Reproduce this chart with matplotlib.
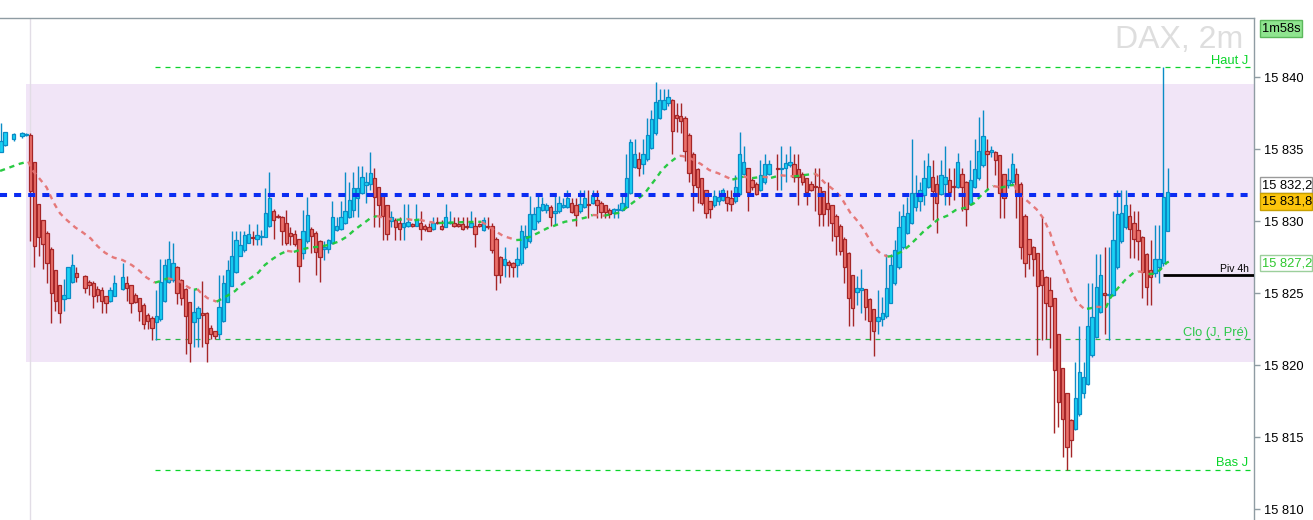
import numpy as np
import matplotlib
matplotlib.use("Agg")
import matplotlib.pyplot as plt
from matplotlib.patches import Rectangle

plt.rcParams['font.family'] = ['Liberation Sans', 'DejaVu Sans']

# 2 minute DAX candles, one slot per bar (None = no bar in that slot)
opens = [
    15834.8, 15835.3, None, 15835.7, None, 15835.9, 15836.0, 15836.0, 15834.1, 15831.2,
    15830.1, 15829.2, 15828.1, 15826.6, 15825.6, 15824.6, 15824.7, 15825.8, 15826.4, None,
    15826.2, 15825.8, 15825.7, 15825.3, 15825.2, 15824.8, 15824.5, 15824.8, None, 15825.3,
    15825.7, 15825.6, 15824.9, 15824.7, 15824.2, 15823.5, 15823.3, 15823.0, 15823.2, 15824.5,
    15825.8, 15825.9, 15826.8, 15825.9, 15825.3, 15824.4, 15823.0, 15823.3, 15823.6, 15823.6,
    15822.6, 15822.4, 15822.2, 15823.1, 15824.4, 15825.5, 15826.5, 15827.6, 15828.0, 15828.5,
    15828.9, 15828.8, 15828.9, 15828.9, 15829.7, 15830.7, 15830.4, 15830.3, 15829.9, 15829.2,
    15829.1, 15828.8, 15827.8, 15828.6, 15829.5, 15829.2, 15828.6, 15828.05, 15828.1, 15828.5,
    15829.4, 15829.5, 15829.9, 15830.3, 15830.8, 15831.6, 15832.0, 15832.5, 15832.6, 15833.0,
    15832.4, 15831.8, 15831.1, 15830.05, 15830.1, 15829.9, 15829.6, 15829.7, 15829.8, 15829.7,
    15829.9, 15829.7, 15829.6, 15829.5, 15829.95, 15829.7, 15829.6, 15829.9, 15829.9, 15829.8,
    15829.8, 15829.7, 15829.6, 15829.7, 15829.8, 15829.4, 15829.7, 15829.7, 15828.8, 15827.5,
    15827.0, 15827.2, 15827.1, 15827.0, 15827.1, 15828.2, 15828.6, 15829.5, 15830.0, 15830.8,
    15830.8, 15831.0, 15830.6, 15830.7, 15831.0, 15831.0, 15831.3, 15831.1, 15830.7, 15831.0,
    15831.2, 15831.25, 15831.5, 15831.3, 15831.1, 15830.8, 15830.6, 15830.8, 15830.8, 15831.0,
    15832.0, 15833.8, 15834.3, 15834.0, 15834.3, 15835.1, 15836.1, 15837.2, 15837.8, 15838.2,
    15838.4, 15837.4, 15837.3, 15837.2, 15836.0, 15834.7, 15833.6, 15833.0, 15832.2, 15831.4,
    15831.1, 15831.4, 15831.5, 15831.7, 15831.6, 15831.4, 15831.9, 15833.3, 15833.7, 15832.9,
    15832.6, 15832.2, 15832.7, 15833.3, None, 15833.7, 15833.65, 15833.7, 15833.9, 15834.0,
    15833.6, 15833.3, 15833.0, 15832.6, 15832.4, 15832.4, 15832.1, 15831.25, 15831.1, 15830.4,
    15829.7, 15828.8, 15827.8, 15826.3, 15825.1, 15825.2, 15825.3, 15824.6, 15823.9, 15823.1,
    15823.2, 15823.4, 15824.3, 15825.7, 15826.8, 15828.2, 15829.2, 15829.9, 15831.0, 15831.4,
    15831.8, 15832.4, 15833.1, 15832.6, 15831.9, 15832.6, 15832.9, 15832.45, 15832.4, 15833.3,
    15832.75, 15831.2, 15832.4, 15833.0, 15833.9, 15834.9, 15834.8, 15834.8, 15834.6, 15833.3,
    15832.5, 15832.7, 15833.3, 15832.6, 15830.4, 15828.75, 15828.2, 15827.8, 15826.6, 15826.1,
    15825.2, 15824.65, 15822.2, 15819.8, 15818.05, 15816.2, 15815.55, 15816.6, 15818.1, 15818.7,
    15820.7, 15822.0, 15823.7, 15825.0, 15824.9, 15824.9, 15826.8, 15828.6, 15829.6, 15830.4,
    15829.9, 15829.4, 15828.9, 15827.7, 15826.6, 15826.4, 15826.85, 15827.1, 15829.35,
]
highs = [
    15836.8, 15836.2, None, 15836.1, None, 15836.2, 15836.1, 15836.1, 15834.1, 15831.2,
    15830.1, 15829.3, 15828.2, 15826.6, 15825.6, 15826.0, 15826.85, 15827.7, 15826.85, None,
    15826.3, 15825.9, 15825.85, 15825.5, 15825.45, 15824.8, 15825.45, 15826.3, None, 15827.1,
    15826.2, 15825.6, 15825.0, 15824.7, 15824.3, 15823.6, 15823.4, 15825.2, 15827.4, 15827.4,
    15828.6, 15828.5, 15826.9, 15826.0, 15825.4, 15824.4, 15825.3, 15824.1, 15825.85, 15823.7,
    15822.8, 15822.4, 15826.3, 15826.3, 15827.3, 15829.3, 15829.3, 15829.3, 15829.3, 15829.8,
    15829.3, 15829.8, 15829.4, 15832.3, 15833.4, 15830.85, 15830.5, 15830.4, 15830.8, 15829.6,
    15829.4, 15828.8, 15830.8, 15831.7, 15829.6, 15829.3, 15828.7, 15828.6, 15828.8, 15831.4,
    15830.3, 15831.4, 15833.4, 15832.75, 15833.4, 15833.85, 15833.85, 15833.4, 15834.8, 15833.7,
    15832.4, 15831.8, 15831.1, 15830.75, 15830.2, 15830.3, 15831.2, 15831.2, 15829.9, 15831.2,
    15830.75, 15829.8, 15829.85, 15830.3, 15830.3, 15830.1, 15831.2, 15830.75, 15830.3, 15830.3,
    15830.3, 15830.3, 15830.75, 15830.3, 15829.9, 15830.3, 15830.3, 15829.9, 15828.9, 15827.6,
    15828.25, 15827.3, 15827.2, 15828.25, 15829.75, 15829.75, 15831.75, 15831.0, 15831.75, 15831.7,
    15831.3, 15831.1, 15831.75, 15831.75, 15831.6, 15832.2, 15831.6, 15831.6, 15832.2, 15832.2,
    15832.2, 15832.2, 15832.2, 15831.4, 15831.1, 15830.9, 15830.9, 15831.2, 15831.75, 15834.7,
    15835.7, 15835.7, 15834.8, 15835.7, 15837.2, 15837.7, 15839.7, 15839.2, 15839.2, 15839.2,
    15838.5, 15838.2, 15838.25, 15837.3, 15836.1, 15834.8, 15833.7, 15833.0, 15832.2, 15831.4,
    15832.2, 15832.2, 15832.3, 15832.2, 15832.2, 15833.2, 15836.2, 15835.2, 15833.7, 15833.0,
    15832.7, 15834.25, 15834.7, 15834.25, None, 15834.7, 15835.2, 15834.7, 15835.2, 15834.7,
    15834.7, 15833.4, 15833.0, 15832.8, 15833.7, 15833.7, 15832.1, 15832.75, 15831.1, 15830.5,
    15829.8, 15828.9, 15827.9, 15826.3, 15826.2, 15826.7, 15825.3, 15824.7, 15823.9, 15825.2,
    15824.75, 15827.7, 15827.7, 15828.7, 15830.7, 15831.2, 15831.7, 15835.7, 15833.2, 15832.75,
    15834.25, 15834.75, 15834.25, 15833.2, 15834.25, 15835.2, 15833.7, 15833.7, 15834.75, 15833.7,
    15832.8, 15834.25, 15835.7, 15837.25, 15837.7, 15835.7, 15835.2, 15834.9, 15834.6, 15833.3,
    15833.7, 15834.75, 15833.7, 15832.7, 15830.5, 15828.8, 15828.3, 15827.8, 15830.3, 15826.2,
    15826.15, 15824.7, 15822.2, 15819.8, 15818.1, 15816.3, 15820.25, 15822.7, 15820.25, 15825.7,
    15825.7, 15827.7, 15827.7, 15828.25, 15828.25, 15830.7, 15832.2, 15832.2, 15832.2, 15831.2,
    15830.7, 15830.7, 15829.0, 15827.8, 15828.7, 15829.75, 15829.75, 15840.75, 15833.7,
]
lows = [
    15834.8, 15835.2, None, 15835.6, None, 15835.8, 15835.9, 15828.6, 15826.8, 15827.6,
    15826.7, 15825.7, 15822.95, 15823.8, 15822.95, 15823.8, 15824.7, 15825.7, 15825.8, None,
    15825.0, 15824.9, 15824.0, 15824.4, 15823.6, 15823.6, 15824.4, 15824.8, None, 15825.2,
    15824.45, 15823.6, 15824.3, 15823.1, 15822.55, 15822.55, 15821.75, 15821.75, 15823.1, 15824.4,
    15825.7, 15825.8, 15824.25, 15824.2, 15820.8, 15820.25, 15821.3, 15821.3, 15821.3, 15820.25,
    15821.8, 15821.8, 15821.8, 15823.0, 15824.4, 15825.5, 15826.4, 15827.6, 15827.9, 15828.5,
    15828.35, 15828.35, 15828.35, 15828.9, 15829.6, 15828.8, 15830.2, 15828.35, 15828.35, 15828.35,
    15828.3, 15825.8, 15827.4, 15828.5, 15827.8, 15826.3, 15825.8, 15827.3, 15827.8, 15828.4,
    15829.3, 15829.4, 15829.8, 15830.2, 15830.3, 15830.3, 15831.9, 15831.3, 15832.2, 15829.6,
    15829.6, 15828.7, 15828.7, 15829.6, 15828.7, 15828.7, 15828.7, 15829.6, 15829.6, 15829.7,
    15828.7, 15829.3, 15829.3, 15829.4, 15829.8, 15829.4, 15829.6, 15829.8, 15829.6, 15829.6,
    15829.4, 15829.5, 15829.6, 15828.2, 15829.6, 15829.3, 15829.5, 15827.8, 15825.2, 15825.7,
    15826.15, 15826.15, 15826.15, 15826.15, 15827.0, 15828.1, 15828.5, 15829.4, 15829.9, 15830.7,
    15830.6, 15829.7, 15829.75, 15830.6, 15830.9, 15830.9, 15830.6, 15829.7, 15830.6, 15830.9,
    15830.2, 15831.2, 15830.2, 15830.2, 15830.2, 15830.2, 15830.2, 15830.2, 15830.7, 15830.9,
    15831.9, 15833.7, 15833.15, 15833.3, 15834.2, 15835.0, 15836.0, 15837.1, 15837.7, 15838.0,
    15834.7, 15836.2, 15836.15, 15834.2, 15832.7, 15830.7, 15831.25, 15831.1, 15830.2, 15830.2,
    15831.0, 15831.1, 15831.4, 15830.7, 15830.7, 15831.3, 15831.8, 15833.2, 15830.7, 15832.2,
    15831.8, 15832.1, 15832.6, 15833.2, None, 15832.2, 15832.2, 15832.7, 15833.8, 15832.7,
    15831.1, 15832.5, 15831.1, 15832.1, 15830.7, 15829.7, 15829.7, 15829.7, 15828.65, 15827.65,
    15827.65, 15825.7, 15822.7, 15822.7, 15824.2, 15823.6, 15823.15, 15821.75, 15820.65, 15822.2,
    15822.7, 15823.3, 15824.3, 15825.6, 15826.7, 15828.1, 15829.1, 15829.8, 15830.7, 15830.7,
    15831.1, 15832.3, 15830.1, 15829.2, 15831.8, 15831.1, 15831.1, 15831.5, 15832.3, 15830.7,
    15829.7, 15831.1, 15832.3, 15832.9, 15833.8, 15832.2, 15834.5, 15833.2, 15830.2, 15830.2,
    15832.3, 15832.5, 15830.2, 15827.4, 15826.15, 15826.7, 15826.2, 15820.7, 15821.75, 15821.85,
    15821.2, 15815.3, 15815.75, 15813.65, 15812.75, 15813.65, 15815.5, 15816.5, 15817.7, 15818.6,
    15820.6, 15821.9, 15823.6, 15822.2, 15821.75, 15824.8, 15826.7, 15828.5, 15829.5, 15827.45,
    15827.45, 15827.3, 15824.7, 15824.2, 15824.2, 15826.15, 15825.7, 15826.9, 15829.3,
]
closes = [
    15835.6, 15836.2, None, 15836.05, None, 15836.1, 15836.05, 15832.1, 15828.3, 15828.9,
    15828.45, 15827.1, 15825.0, 15824.5, 15823.6, 15824.9, 15826.8, 15826.95, 15826.1, None,
    15825.35, 15825.6, 15824.8, 15824.9, 15824.5, 15824.3, 15825.2, 15825.75, None, 15826.1,
    15825.4, 15824.3, 15824.4, 15823.8, 15822.9, 15823.05, 15822.6, 15823.45, 15825.8, 15826.95,
    15827.35, 15827.1, 15825.05, 15824.7, 15823.45, 15821.55, 15823.7, 15823.95, 15823.5, 15821.55,
    15822.15, 15822.05, 15824.05, 15825.7, 15826.65, 15827.6, 15828.7, 15828.35, 15829.05, 15829.15,
    15828.85, 15829.05, 15828.9, 15830.55, 15831.65, 15830.1, 15830.3, 15829.3, 15828.5, 15829.0,
    15828.4, 15826.9, 15829.3, 15830.45, 15828.95, 15827.9, 15827.55, 15828.25, 15828.7, 15830.3,
    15829.65, 15830.3, 15830.7, 15831.5, 15832.3, 15832.3, 15833.05, 15832.7, 15833.35, 15831.7,
    15831.1, 15830.35, 15829.1, 15830.3, 15829.6, 15829.45, 15829.85, 15829.95, 15829.7, 15830.1,
    15829.45, 15829.45, 15829.3, 15829.9, 15829.85, 15829.45, 15830.3, 15829.95, 15829.65, 15829.7,
    15829.45, 15829.6, 15829.85, 15829.1, 15829.7, 15830.1, 15829.6, 15828.0, 15826.3, 15826.3,
    15827.35, 15826.95, 15826.8, 15827.35, 15829.3, 15829.0, 15830.5, 15830.5, 15831.0, 15831.2,
    15831.1, 15830.3, 15830.7, 15831.3, 15831.15, 15831.6, 15830.65, 15830.45, 15831.2, 15831.6,
    15831.15, 15831.8, 15831.1, 15830.65, 15830.65, 15830.5, 15830.85, 15830.85, 15831.3, 15833.0,
    15835.5, 15834.7, 15833.7, 15834.7, 15836.0, 15837.1, 15838.3, 15838.45, 15838.4, 15838.65,
    15836.3, 15837.2, 15837.0, 15834.9, 15833.35, 15832.5, 15832.35, 15831.3, 15830.55, 15830.85,
    15831.75, 15831.7, 15832.2, 15831.3, 15831.2, 15832.35, 15834.7, 15834.1, 15832.05, 15832.4,
    15831.9, 15833.2, 15834.0, 15834.0, None, 15833.65, 15833.7, 15834.05, 15834.15, 15833.05,
    15833.05, 15832.7, 15832.05, 15832.2, 15832.35, 15830.5, 15830.5, 15830.85, 15829.85, 15828.95,
    15827.95, 15826.8, 15824.7, 15823.95, 15825.35, 15825.35, 15824.05, 15823.05, 15822.35, 15823.35,
    15823.6, 15825.35, 15826.95, 15828.0, 15829.6, 15830.35, 15830.55, 15831.95, 15831.95, 15832.2,
    15833.0, 15833.85, 15832.1, 15831.3, 15833.2, 15833.05, 15832.05, 15832.4, 15834.1, 15832.35,
    15830.85, 15832.85, 15833.6, 15834.85, 15835.95, 15834.7, 15834.95, 15834.25, 15831.95, 15831.6,
    15832.85, 15833.95, 15831.9, 15828.2, 15827.1, 15827.75, 15827.35, 15825.5, 15825.6, 15824.3,
    15824.1, 15819.7, 15817.45, 15816.3, 15814.3, 15814.85, 15817.7, 15819.55, 15819.2, 15822.75,
    15823.35, 15825.45, 15826.3, 15824.85, 15824.95, 15828.7, 15830.5, 15830.55, 15831.15, 15829.45,
    15828.8, 15828.6, 15826.45, 15825.45, 15826.15, 15827.35, 15827.35, 15831.7, 15832.05,
]

# moving average (slot position, price)
ma_x = [-0.2, 4.5, 6.5, 7.5, 9.3, 10.9, 11.9, 12.9, 14.1, 15.7, 17.7, 19.6, 21.4, 23.0, 24.8,
        26.8, 29.0, 31.2, 33.0, 34.7, 36.7, 38.0, 39.8, 42.7, 44.7, 46.0, 46.8, 47.4, 49.2, 51.4,
        53.8, 55.8, 57.4, 59.4, 61.3, 62.9, 64.8, 66.7, 68.2, 69.8, 71.7, 73.8, 76.0, 78.4, 80.6,
        82.4, 84.4, 86.4, 88.0, 89.6, 92.5, 94.3, 96.8, 97.6, 98.5, 99.8, 101.0, 103.3, 104.3, 107.8,
        111.0, 114.5, 115.8, 117.7, 119.7, 121.7, 122.8, 123.9, 126.1, 128.1, 130.1, 132.3, 134.4,
        136.8, 139.2, 141.0, 142.5, 143.8, 145.6, 147.5, 149.5, 151.4, 153.3, 154.7, 156.1, 157.5,
        159.3, 161.0, 161.8, 162.5, 164.6, 166.8, 168.8, 171.0, 173.1, 174.3, 177.0, 179.0, 181.5,
        183.5, 185.8, 187.6, 189.0, 193.8, 194.4, 196.3, 198.3, 200.0, 201.3, 202.4, 204.1, 205.4,
        206.6, 207.8, 209.6, 211.3, 212.5, 214.6, 216.4, 218.2, 219.8, 221.5, 223.3, 225.5, 227.5,
        229.7, 231.8, 233.4, 235.2, 236.5, 237.5, 238.2, 240.4, 241.5, 242.4, 244.8, 246.8, 248.4,
        250.0, 251.2, 252.4, 253.8, 255.2, 256.5, 258.0, 258.8, 259.6, 261.0, 262.0, 263.3, 264.3,
        265.9, 267.9, 269.9, 271.0, 271.6, 273.5, 274.6, 276.2, 277.8, 278.3]
ma_y = [15833.5, 15834.0, 15834.15, 15833.56, 15832.93, 15832.35, 15831.71, 15831.13, 15830.55,
        15830.09, 15829.58, 15829.21, 15828.81, 15828.28, 15827.82, 15827.49, 15827.31, 15826.96,
        15826.57, 15826.1, 15825.74, 15825.85, 15826.05, 15825.81, 15825.41, 15825.25, 15825.3,
        15825.11, 15824.67, 15824.42, 15824.81, 15825.16, 15825.62, 15826.04, 15826.43, 15826.97,
        15827.4, 15827.75, 15827.95, 15827.88, 15828.05, 15828.19, 15828.24, 15828.38, 15828.61,
        15828.93, 15829.44, 15829.86, 15830.21, 15830.37, 15830.17, 15830.1, 15830.16, 15830.12,
        15830.08, 15830.12, 15830.02, 15829.9, 15829.88, 15829.92, 15829.95, 15829.97, 15829.74,
        15829.35, 15828.98, 15828.8, 15828.7, 15828.72, 15828.93, 15829.21, 15829.51, 15829.74,
        15829.97, 15830.09, 15830.25, 15830.44, 15830.42, 15830.39, 15830.51, 15830.6, 15831.06,
        15831.48, 15831.9, 15832.45, 15832.98, 15833.56, 15834.07, 15834.44, 15834.55, 15834.53,
        15834.33, 15833.98, 15833.56, 15833.33, 15833.05, 15832.9, 15833.1, 15833.0, 15833.1,
        15833.02, 15833.2, 15833.15, 15833.12, 15833.3, 15833.25, 15832.68, 15832.22, 15831.76,
        15831.13, 15830.6, 15830.03, 15829.51, 15828.93, 15828.28, 15827.77, 15827.55, 15827.6,
        15827.89, 15828.3, 15828.81, 15829.28, 15829.69, 15830.13, 15830.39, 15830.78, 15830.94,
        15831.24, 15831.75, 15832.22, 15832.45, 15832.4, 15832.33, 15832.5, 15832.52, 15831.95,
        15831.36, 15830.83, 15830.21, 15829.21, 15828.12, 15827.2, 15826.16, 15825.11, 15824.35,
        15823.96, 15823.93, 15823.96, 15824.07, 15824.05, 15824.0, 15824.65, 15825.27, 15825.93,
        15826.43, 15826.52, 15826.5, 15826.34, 15826.36, 15826.62, 15827.13, 15827.2]

y_ticks = [15810, 15815, 15820, 15825, 15830, 15835, 15840]
haut_j, clo_pre, bas_j, piv_4h = 15840.7, 15821.8, 15812.73, 15826.25
last_price = 15831.8
band_lo, band_hi = 15820.23, 15839.53

o = np.array(opens, dtype=float)
h = np.array(highs, dtype=float)
l = np.array(lows, dtype=float)
c = np.array(closes, dtype=float)
x = np.arange(len(o))

W, H = 1313, 520
fig = plt.figure(figsize=(W / 100, H / 100), dpi=100)
fig.patch.set_facecolor('white')
ax = fig.add_axes([0, 0, 1254 / W, 502 / H])
ax.set_xlim(-0.22, 298.6)
ax.set_ylim(15809.26, 15844.12)

# session band + separator
ax.fill_between([6.0, 298.6], band_lo, band_hi, color='#f1e5f7', lw=0, zorder=0)
ax.axvline(6.95, color='#e2dde6', lw=1, zorder=1)

lvl_x0 = 36.7
for lv, col in [(haut_j, '#0ad52a'), (clo_pre, '#2ab84a'), (bas_j, '#0ad52a')]:
    ax.hlines(lv, lvl_x0, 298.6, color=col, lw=0.9, linestyles=(0, (4, 4)), zorder=2)

# candles
up = c >= o
ok = ~np.isnan(o)
for m, fill, edge in [(up & ok, '#19d2f4', '#0a8cc6'), (~up & ok, '#ea716b', '#a52628')]:
    ax.vlines(x[m], l[m], h[m], color=edge, lw=1, zorder=3)
    bot = np.minimum(o[m], c[m])
    hgt = np.maximum(np.abs(c[m] - o[m]), 0.07)
    ax.bar(x[m], hgt, bottom=bot, width=0.8, color=fill, edgecolor=edge, lw=0.9, zorder=4)

# moving average, green when rising, red when falling
mx = np.array(ma_x)
my = np.array(ma_y)
rising = np.diff(my) >= 0
start = 0
for k in range(1, len(rising) + 1):
    if k == len(rising) or rising[k] != rising[start]:
        col = '#1fc83a' if rising[start] else '#e57373'
        ax.plot(mx[start:k + 1], my[start:k + 1], color=col, lw=1.7,
                dashes=(2.2, 2.0), alpha=0.95, zorder=5, solid_capstyle='butt')
        start = k

ax.axhline(last_price, color='#0a2cf2', lw=2.9, dashes=(1.75, 1.75), zorder=6)
ax.hlines(piv_4h, 277.0, 298.6, color='black', lw=2, zorder=6)

lab_x = 297.3
ax.annotate('Haut J', (lab_x, haut_j), xytext=(0, 0.3), textcoords='offset points',
            ha='right', va='bottom', fontsize=9.3, color='#0ad52a')
ax.annotate('Clo (J, Pré)', (lab_x, clo_pre), xytext=(0, 0.5), textcoords='offset points',
            ha='right', va='bottom', fontsize=9.3, color='#2bc84a')
ax.annotate('Bas J', (lab_x, bas_j), xytext=(0, 0.5), textcoords='offset points',
            ha='right', va='bottom', fontsize=9.3, color='#0ad52a')
ax.annotate('Piv 4h', (lab_x, piv_4h), xytext=(0, 1.0), textcoords='offset points',
            ha='right', va='bottom', fontsize=7.5, color='black')

# axes look
for s in ['left', 'bottom']:
    ax.spines[s].set_visible(False)
for s in ['top', 'right']:
    ax.spines[s].set_color('#8f9ca3')
    ax.spines[s].set_linewidth(1)
ax.set_xticks([])
ax.yaxis.tick_right()
ax.set_yticks(y_ticks)
ax.set_yticklabels([f"{v // 1000} {v % 1000:03d}" for v in y_ticks])
ax.tick_params(axis='y', length=4, width=1, color='#8f9ca3', pad=3, labelsize=9.3)


def fx(px):
    return px / W


def fy(py):
    return (H - py) / H


def tag(x0, y0, x1, y1, s, fc, ec, tc):
    fig.patches.append(Rectangle((fx(x0), fy(y1)), fx(x1) - fx(x0), fy(y0) - fy(y1),
                                 transform=fig.transFigure, fc=fc, ec=ec, lw=1))
    fig.text(fx(x0 + 2.5), fy((y0 + y1) / 2 + 0.5), s, ha='left', va='center',
             fontsize=9.3, color=tc)


tag(1259.5, 177, 1312, 193, '15 832,2', 'white', '#9a9a9a', 'black')
tag(1259.5, 193, 1312, 210, '15 831,8', '#fcc50c', '#c8a000', 'black')
tag(1259.5, 255, 1312, 271, '15 827,2', 'white', '#9ccf9c', '#2ec82e')
tag(1259.5, 20, 1301.5, 37, '1m58s', '#8fe58f', '#5cb85c', 'black')

fig.text(fx(1243), fy(48), 'DAX, 2m', ha='right', va='baseline',
         fontsize=23, color='#dedede')

fig.savefig('out.png', dpi=100)
